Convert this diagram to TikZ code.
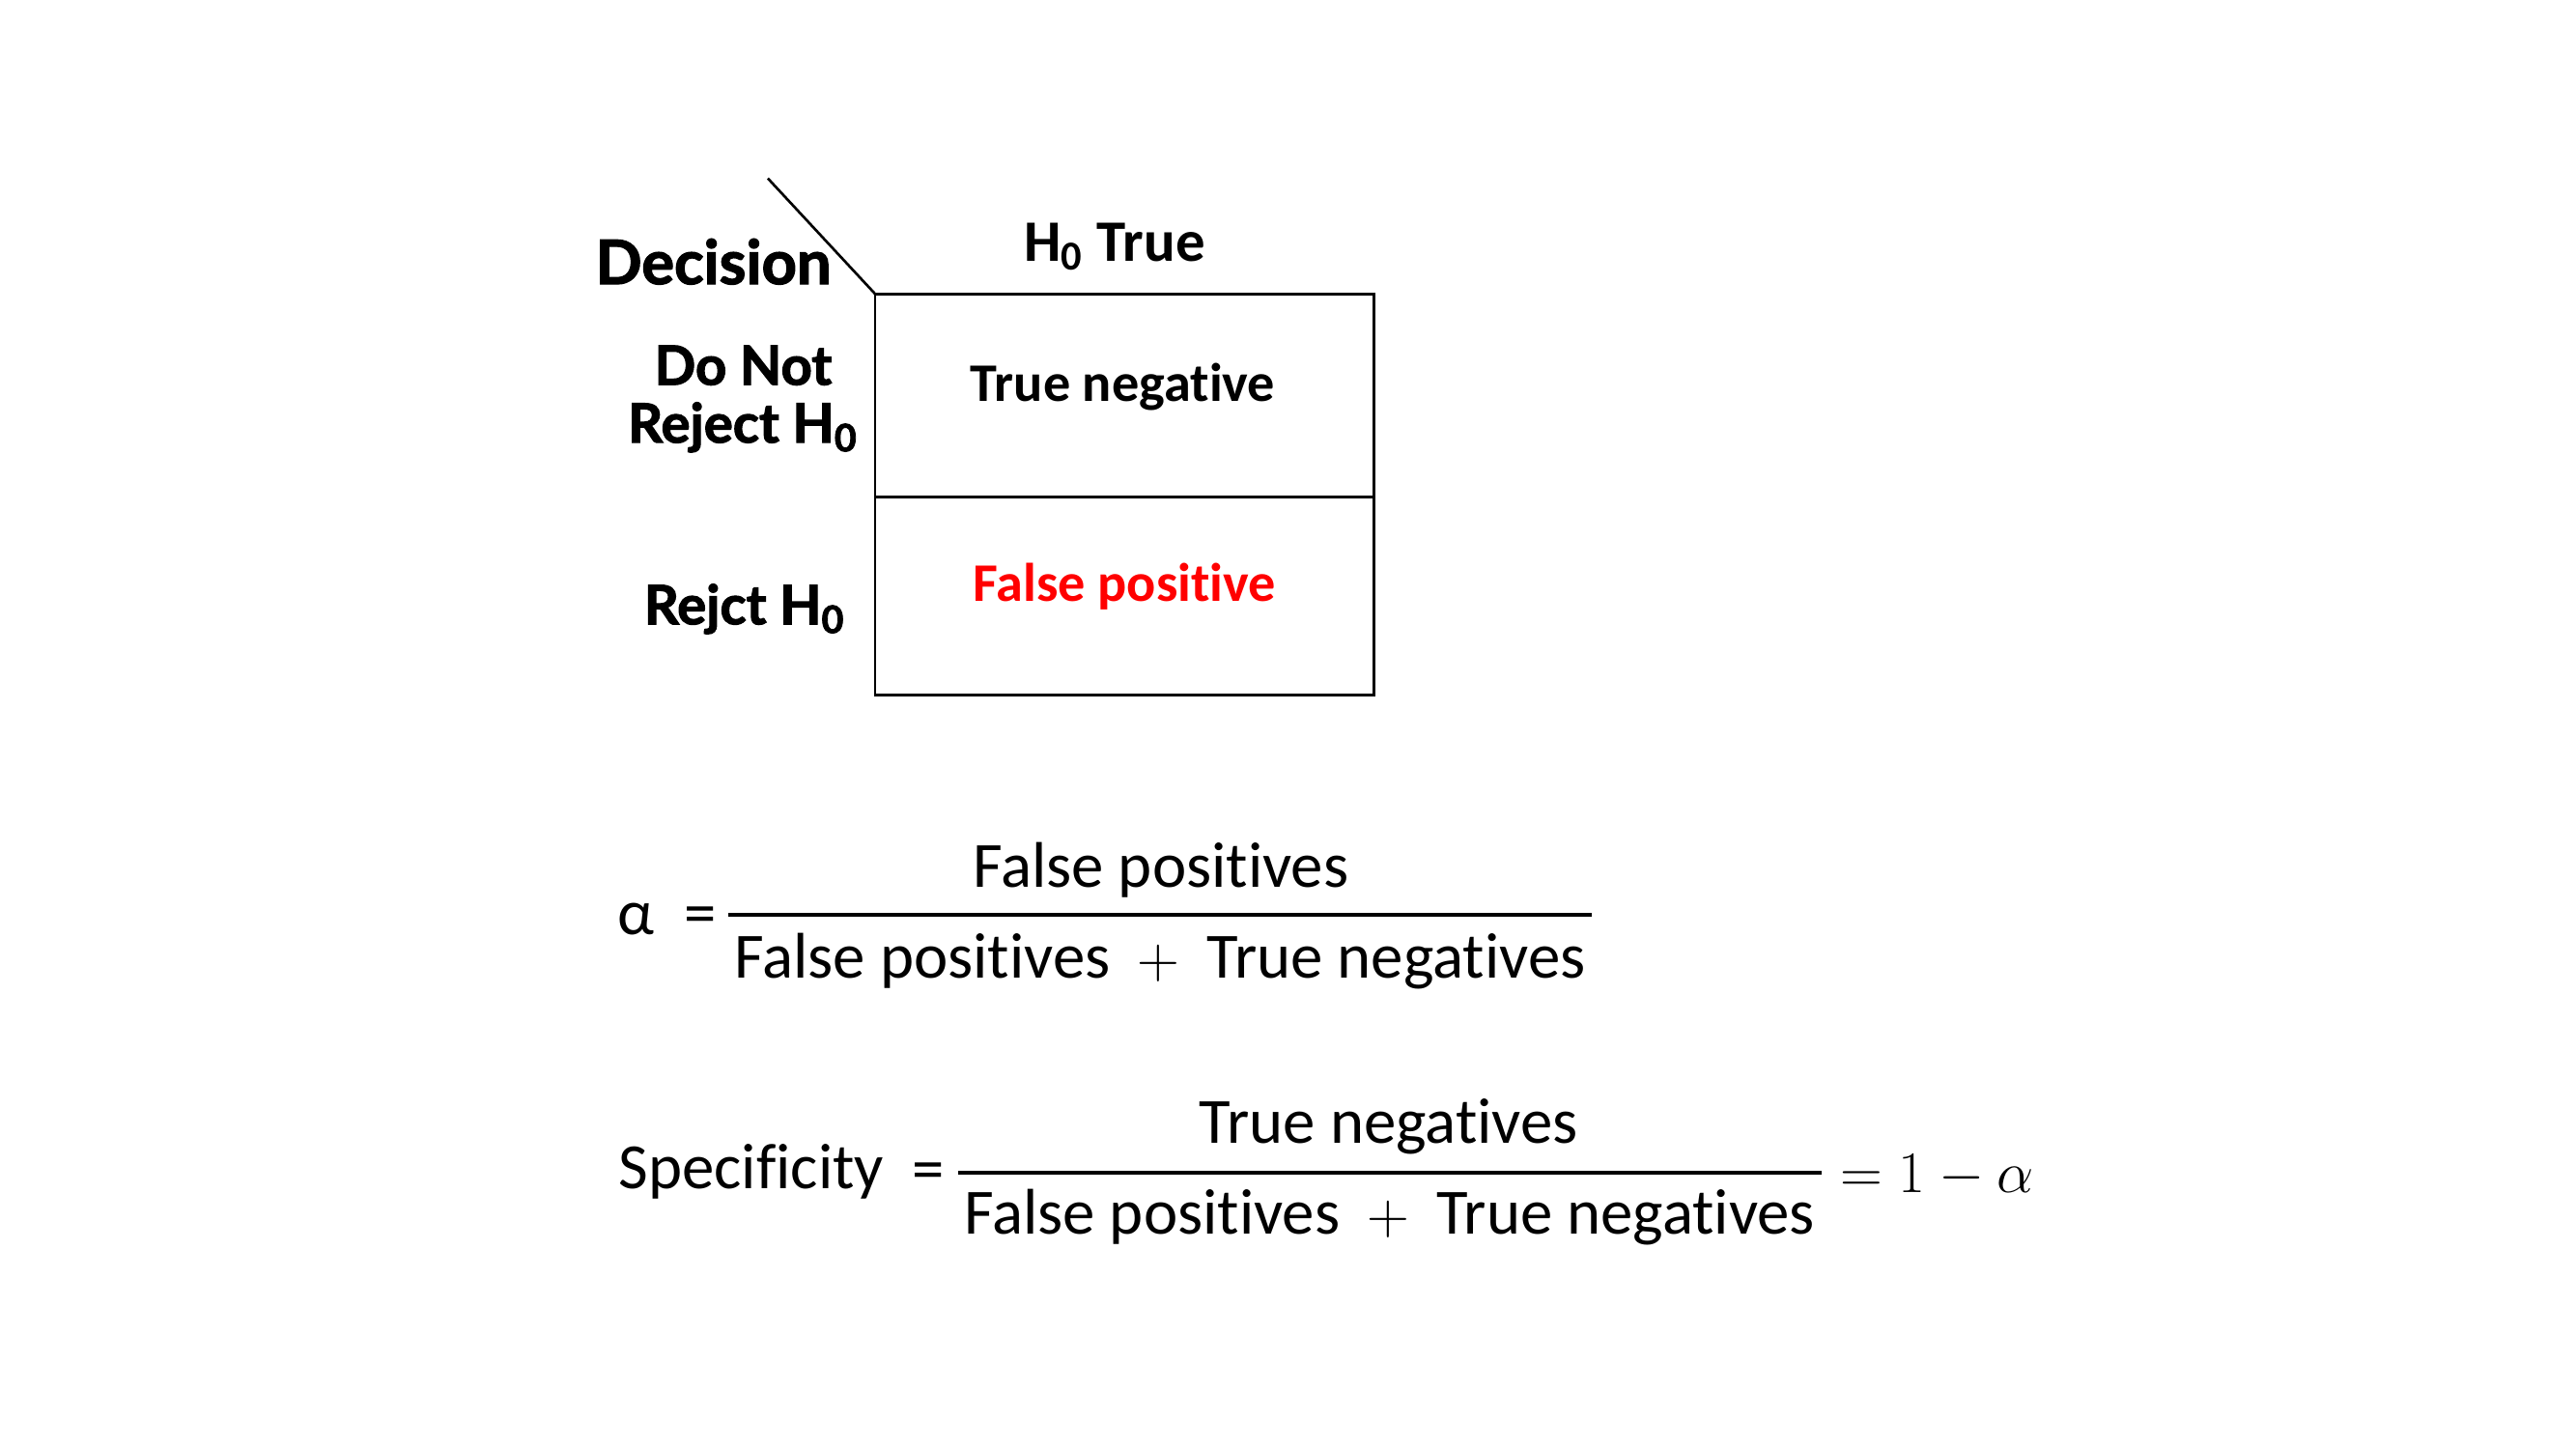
\documentclass[tikz,border=0pt]{standalone}
\usepackage{fontspec}
\setmainfont{Carlito}[Ligatures=NoCommon]
\newfontfamily\gillfont{Lato}[Ligatures=NoCommon, BoldFeatures={FakeBold=2}]
\usetikzlibrary{calc}
\definecolor{fpred}{RGB}{255,0,0}
\tikzset{
  rowlbl/.style={font=\gillfont\bfseries\fontsize{16}{19}\selectfont, anchor=base, inner sep=0pt},
  cell/.style={font=\bfseries\fontsize{16}{19}\selectfont, anchor=base, inner sep=0pt},
  eqtext/.style={font=\fontsize{19}{23}\selectfont, anchor=base, inner sep=0pt},
  grid/.style={line width=0.75pt},
  fracbar/.style={line width=1.2pt}
}

\begin{document}
\begin{tikzpicture}[x=0.017096cm,y=-0.017096cm]
\useasboundingbox (0,0) rectangle (1560,877);

\coordinate (t0) at (465,108);
\coordinate (t1) at (530,178);
\coordinate (t2) at (832,178);
\coordinate (t3) at (832,421);
\coordinate (t4) at (530,421);
\coordinate (t5) at (530,301);
\coordinate (t6) at (832,301);
\coordinate (f0) at (441,554);
\coordinate (f1) at (964,554);
\coordinate (f2) at (580,710);
\coordinate (f3) at (1103,710);
  \draw[grid] (t0) -- (t1);
  \draw[grid] (t1) -- (t2) -- (t3) -- (t4) -- cycle;
  \draw[grid] (t5) -- (t6);

\node[rowlbl, font=\gillfont\bfseries\fontsize{18}{21}\selectfont] (dec) at (432,172) {Decision};
\node[cell, font=\bfseries\fontsize{17.3}{20}\selectfont] (htrue) at (675,158) {H\textsubscript{0} True};
\node[rowlbl] (donot) at (450,233) {Do Not};
\node[rowlbl] (rej) at (450,268) {Reject H\textsubscript{0}};
\node[rowlbl] (rejct) at (451,378) {Rejct H\textsubscript{0}};
\node[cell] (tn) at (680,243) {True negative};
\node[cell, text=fpred] (fp) at (681,364) {False positive};

% alpha
\node[eqtext] (al) at (385,566) {α};
\node[eqtext] (aleq) at (424,566) {=};
\node[eqtext] (alnum) at (703,537) {False positives};
\node[eqtext] (alden) at (702.5,592) {False positives\hspace{8pt}$+$\hspace{8pt}True negatives};
  \draw[fracbar] (f0) -- (f1);

% specificity
\node[eqtext] (spec) at (455,720) {Specificity};
\node[eqtext] (speq) at (562,721) {=};
\node[eqtext] (spnum) at (841,692) {True negatives};
\node[eqtext] (spden) at (841.5,747) {False positives\hspace{8pt}$+$\hspace{8pt}True negatives};
\node[eqtext, anchor=base west] (sprhs) at (1114,722) {$= 1 - \alpha$};
  \draw[fracbar] (f2) -- (f3);
\end{tikzpicture}
\end{document}
